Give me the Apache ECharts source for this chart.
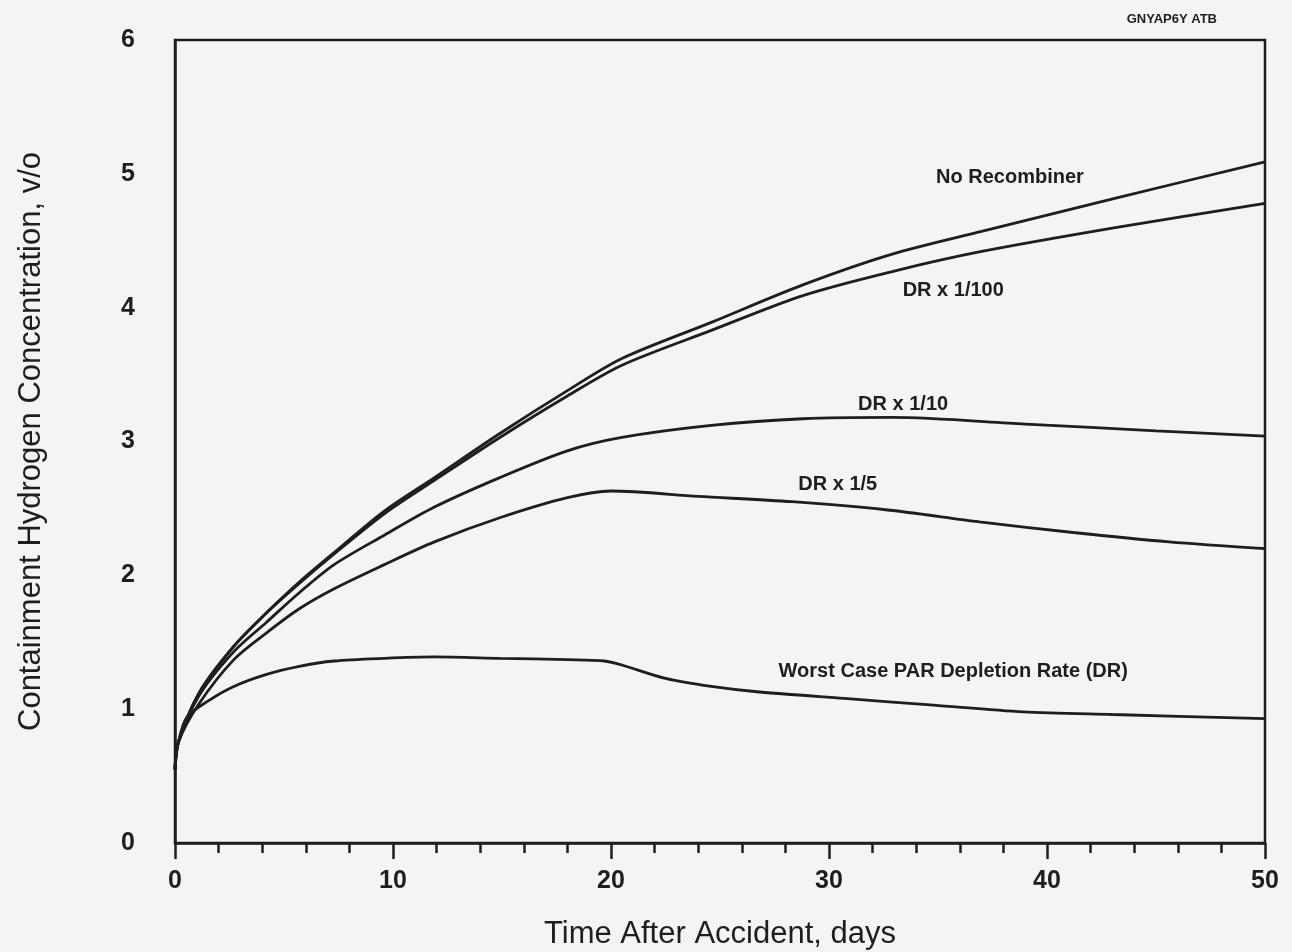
<!DOCTYPE html>
<html>
<head>
<meta charset="utf-8">
<script src="https://cdn.jsdelivr.net/npm/echarts@6/dist/echarts.min.js"></script>
<style>
  html, body { margin: 0; padding: 0; background: #f4f4f2; }
  #chart { width: 1292px; height: 952px; }
</style>
</head>
<body>
<div id="chart"></div>
<script>
// values: [day, v/o]
const noRecombiner = [[0, 0.55], [0.15, 0.75], [1.1, 1.12], [2.7, 1.47], [4.2, 1.72], [5.7, 1.95], [7.3, 2.17], [9.6, 2.48], [11.9, 2.73], [14.9, 3.06], [18, 3.38], [20.5, 3.62], [24.6, 3.89], [28.8, 4.17], [32.9, 4.4], [37, 4.57], [43.2, 4.82], [50, 5.09]]
const drOver100 = [[0, 0.55], [0.15, 0.75], [1.1, 1.12], [2.7, 1.47], [4.2, 1.72], [5.7, 1.94], [7.3, 2.16], [9.6, 2.46], [11.9, 2.71], [14.9, 3.03], [18, 3.34], [20.5, 3.57], [24.6, 3.83], [28.8, 4.09], [32.9, 4.27], [37, 4.42], [43.2, 4.6], [50, 4.78]]
const drOver10 = [[0, 0.55], [0.15, 0.75], [1.1, 1.1], [2.7, 1.43], [4.2, 1.65], [5.7, 1.87], [7.3, 2.08], [9.6, 2.3], [11.9, 2.51], [14.9, 2.73], [18, 2.93], [20.5, 3.03], [24.6, 3.12], [28.8, 3.17], [32.9, 3.18], [39, 3.13], [45, 3.08], [50, 3.04]]
const drOver5 = [[0, 0.55], [0.15, 0.75], [1.1, 1.04], [2.7, 1.37], [4.2, 1.57], [5.7, 1.75], [7.3, 1.9], [9.6, 2.08], [11.9, 2.25], [14.9, 2.43], [18, 2.58], [20, 2.63], [24, 2.59], [28.3, 2.55], [32.6, 2.49], [36.9, 2.4], [41.2, 2.32], [45.6, 2.25], [50, 2.2]]
const worstCase = [[0, 0.55], [0.15, 0.75], [0.55, 0.94], [1.6, 1.07], [2.7, 1.17], [4.2, 1.26], [5.7, 1.32], [7.3, 1.36], [9.6, 1.38], [11.9, 1.39], [14.9, 1.38], [18, 1.37], [19.7, 1.36], [20.5, 1.33], [22.5, 1.23], [24.6, 1.17], [26.7, 1.13], [30.7, 1.08], [34.8, 1.03], [38.9, 0.98], [43, 0.96], [50, 0.93]]

// curve labels written on the plot
const noteText = ['No Recombiner', 'DR x 1/100', 'DR x 1/10', 'DR x 1/5', 'Worst Case PAR Depletion Rate (DR)']
const noteDay = [38.3, 35.7, 33.4, 30.4, 35.7]
const noteConc = [4.97, 4.13, 3.28, 2.68, 1.28]

const ink = '#1e1e1e'
const font = 'Liberation Sans, Arial, Helvetica, sans-serif'

function curve(name, data) {
  return {
    name: name,
    type: 'line',
    data: data,
    smooth: 0.3,
    showSymbol: false,
    lineStyle: { color: ink, width: 2.8 },
    animation: false
  }
}

const chart = echarts.init(document.getElementById('chart'))
chart.setOption({
  backgroundColor: '#f4f4f2',
  textStyle: { fontFamily: font, color: ink },
  title: {
    text: 'GNYAP6Y ATB',
    right: 70,
    top: 8,
    textStyle: { fontSize: 13, fontWeight: 'bold', color: ink, fontFamily: font }
  },
  grid: {
    left: 175,
    right: 27,
    top: 40,
    bottom: 109,
    outerBoundsMode: 'none',
    show: true,
    borderColor: ink,
    borderWidth: 2.5,
    backgroundColor: 'transparent'
  },
  xAxis: {
    type: 'value',
    min: 0,
    max: 50,
    interval: 10,
    name: 'Time After Accident, days',
    nameLocation: 'middle',
    nameGap: 76,
    nameTextStyle: { fontSize: 31, color: ink, fontFamily: font },
    axisLine: { show: true, lineStyle: { color: ink, width: 2.5 } },
    axisTick: { show: true, inside: false, length: 16, lineStyle: { color: ink, width: 2.5 } },
    minorTick: { show: true, splitNumber: 5, length: 10, lineStyle: { color: ink, width: 2.5 } },
    axisLabel: { fontSize: 25, fontWeight: 'bold', color: ink, margin: 26, fontFamily: font },
    splitLine: { show: false },
    minorSplitLine: { show: false }
  },
  yAxis: {
    type: 'value',
    min: 0,
    max: 6,
    interval: 1,
    name: 'Containment Hydrogen Concentration, v/o',
    nameLocation: 'middle',
    nameGap: 128,
    nameTextStyle: { fontSize: 31, color: ink, fontFamily: font },
    axisLine: { show: true, lineStyle: { color: ink, width: 2.5 } },
    axisTick: { show: false },
    axisLabel: { fontSize: 25, fontWeight: 'bold', color: ink, margin: 40, fontFamily: font },
    splitLine: { show: false }
  },
  series: [
    curve('No Recombiner', noRecombiner),
    curve('DR x 1/100', drOver100),
    curve('DR x 1/10', drOver10),
    curve('DR x 1/5', drOver5),
    curve('Worst Case PAR Depletion Rate (DR)', worstCase),
    {
      name: 'notes',
      type: 'scatter',
      symbolSize: 1,
      silent: true,
      animation: false,
      itemStyle: { opacity: 0 },
      data: noteText.map((t, i) => ({ name: t, value: [noteDay[i], noteConc[i]] })),
      label: {
        show: true,
        position: 'inside',
        formatter: p => p.name,
        fontSize: 20,
        fontWeight: 'bold',
        color: ink,
        opacity: 1,
        textBorderWidth: 0,
        fontFamily: font
      }
    }
  ]
})
</script>
</body>
</html>
